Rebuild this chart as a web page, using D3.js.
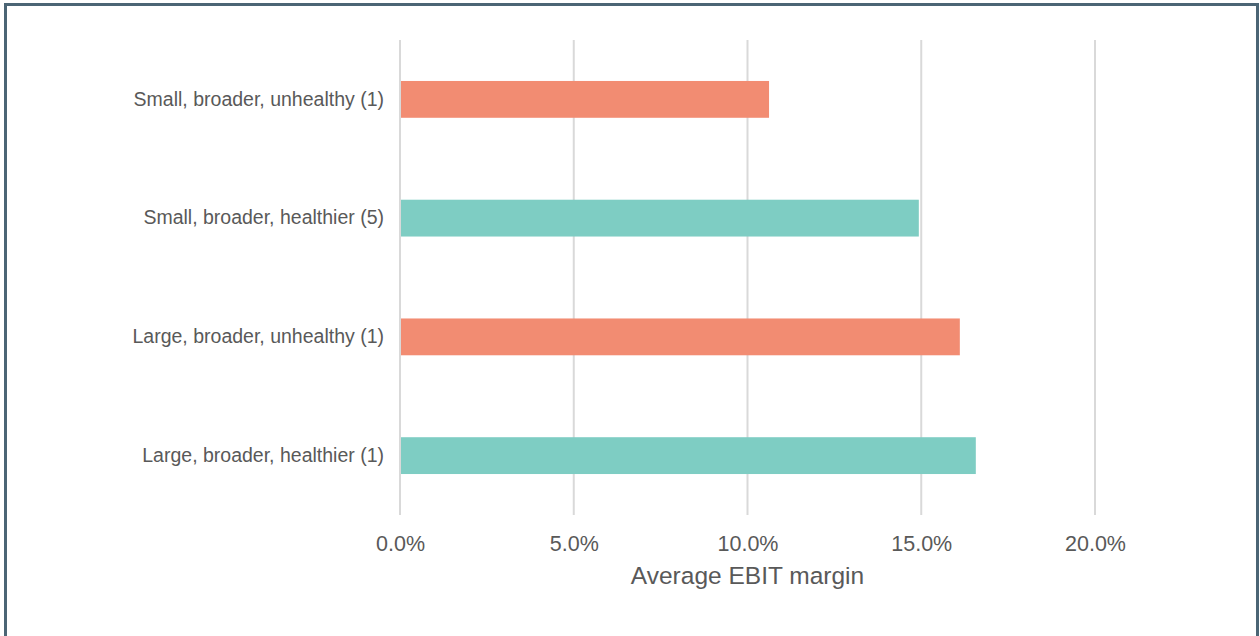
<!DOCTYPE html>
<html>
<head>
<meta charset="utf-8">
<script src="https://cdn.jsdelivr.net/npm/d3@7"></script>
<style>
  html, body { margin: 0; padding: 0; background: #fff; }
  #chart { width: 1260px; height: 636px; }
  text { font-family: "Liberation Sans", Arial, sans-serif; }
</style>
</head>
<body>
<div id="chart"></div>
<script>
// DATA
const categories = [
    "Small, broader, unhealthy (1)",
    "Small, broader, healthier (5)",
    "Large, broader, unhealthy (1)",
    "Large, broader, healthier (1)"
];
const margins = [0.1062, 0.1493, 0.1611, 0.1657];
const health = ["unhealthy", "healthier", "unhealthy", "healthier"];
const tickValues = [0, 0.05, 0.10, 0.15, 0.20];
const axisTitle = "Average EBIT margin";

// render
function render() {
    const width = 1260;
    const height = 636;
    const plot = { left: 400, right: 1095, top: 40, bottom: 515 };
    const color = d3.scaleOrdinal(["unhealthy", "healthier"], ["#f28c72", "#7ecdc3"]);

    const svg = d3.select('#chart').append('svg')
        .attr('width', width)
        .attr('height', height);

    // frame
    svg.append('rect')
        .attr('x', 5.5)
        .attr('y', 4.5)
        .attr('width', 1252)
        .attr('height', 640)
        .attr('fill', 'none')
        .attr('stroke', '#4b6575')
        .attr('stroke-width', 3);

    const x = d3.scaleLinear()
        .domain([0, 0.2])
        .range([plot.left, plot.right]);

    const y = d3.scaleBand()
        .domain(categories)
        .range([plot.top, plot.bottom])
        .paddingInner(0.69)
        .paddingOuter(0.345);

    // gridlines
    svg.append('g')
        .attr('class', 'grid')
        .selectAll('line')
        .data(tickValues)
        .enter().append('line')
        .attr('x1', d => x(d))
        .attr('x2', d => x(d))
        .attr('y1', plot.top)
        .attr('y2', plot.bottom)
        .attr('stroke', '#d9d9d9')
        .attr('stroke-width', 2);

    // bars
    svg.append('g')
        .attr('class', 'bars')
        .selectAll('rect')
        .data(categories)
        .enter().append('rect')
        .attr('x', x(0) + 1)
        .attr('y', d => y(d))
        .attr('width', (d, i) => x(margins[i]) - x(0) - 1)
        .attr('height', y.bandwidth())
        .attr('fill', (d, i) => color(health[i]));

    // x axis labels
    const xAxis = d3.axisBottom(x)
        .tickValues(tickValues)
        .tickFormat(d3.format('.1%'))
        .tickSize(0)
        .tickPadding(0);

    const gx = svg.append('g')
        .attr('transform', `translate(0, 551)`)
        .call(xAxis);
    gx.select('.domain').remove();
    gx.selectAll('text')
        .attr('dy', 0)
        .attr('font-size', 21.5)
        .attr('fill', '#595959');

    // y axis labels
    const yAxis = d3.axisLeft(y)
        .tickSize(0)
        .tickPadding(16);

    const gy = svg.append('g')
        .attr('transform', `translate(${plot.left}, 0)`)
        .call(yAxis);
    gy.select('.domain').remove();
    gy.selectAll('text')
        .attr('font-size', 19.5)
        .attr('fill', '#595959');

    // axis title
    svg.append('text')
        .attr('x', (plot.left + plot.right) / 2)
        .attr('y', 584)
        .attr('text-anchor', 'middle')
        .attr('font-size', 24.5)
        .attr('fill', '#595959')
        .text(axisTitle);
}

window.onload = render;
</script>
</body>
</html>
